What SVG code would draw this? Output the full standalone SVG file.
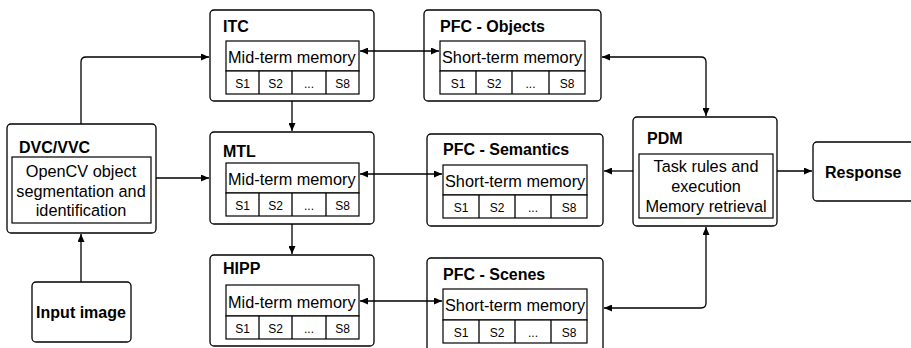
<svg xmlns="http://www.w3.org/2000/svg" width="911" height="348" viewBox="0 0 911 348">
<defs>
<marker id="ah" viewBox="0 0 10 10" refX="10" refY="5" markerWidth="8" markerHeight="7" markerUnits="userSpaceOnUse" orient="auto-start-reverse" preserveAspectRatio="none">
<path d="M0,0 L10,5 L0,10 Z" fill="#000"/>
</marker>
<style>
.box{fill:#fff;stroke:#000;stroke-width:1.3}
.in{fill:#fff;stroke:#000;stroke-width:1.2}
.t{font-family:"Liberation Sans",Arial,sans-serif;font-weight:bold;font-size:16px;fill:#000}
.m{font-family:"Liberation Sans",Arial,sans-serif;font-size:16.3px;fill:#000}
.s{font-family:"Liberation Sans",Arial,sans-serif;font-size:12px;fill:#000;text-anchor:middle}
.c{fill:none;stroke:#000;stroke-width:1.3}
</style>
</defs>
<rect width="911" height="348" fill="#fff"/>

<g id="dvc">
<rect class="box" x="7" y="124" width="149" height="109" rx="4"/>
<text class="t" x="19" y="153">DVC/VVC</text>
<rect class="in" x="12" y="157" width="139" height="66"/>
<text class="m" x="81" y="177" text-anchor="middle">OpenCV object</text>
<text class="m" x="81" y="197" text-anchor="middle">segmentation and</text>
<text class="m" x="81" y="216" text-anchor="middle">identification</text>
</g>

<g id="input">
<rect class="box" x="32" y="282" width="99" height="60" rx="4"/>
<text class="t" x="81" y="318" text-anchor="middle">Input image</text>
</g>

<g id="itc">
<rect class="box" x="210" y="10" width="164" height="91" rx="4"/>
<text class="t" x="223" y="32">ITC</text>
<rect class="in" x="226" y="41" width="133" height="30"/>
<text class="m" x="228" y="63">Mid-term memory</text>
<rect class="in" x="226" y="71" width="133" height="23"/>
<path class="c" d="M259,71 V94 M292,71 V94 M326,71 V94"/>
<text class="s" x="242.5" y="87.5">S1</text><text class="s" x="275.5" y="87.5">S2</text><text class="s" x="309" y="87.5">...</text><text class="s" x="342.5" y="87.5">S8</text>
</g>

<g id="mtl">
<rect class="box" x="210" y="132" width="164" height="92" rx="4"/>
<text class="t" x="223" y="157">MTL</text>
<rect class="in" x="226" y="163" width="133" height="30"/>
<text class="m" x="228" y="185">Mid-term memory</text>
<rect class="in" x="226" y="193" width="133" height="23"/>
<path class="c" d="M259,193 V216 M292,193 V216 M326,193 V216"/>
<text class="s" x="242.5" y="209.5">S1</text><text class="s" x="275.5" y="209.5">S2</text><text class="s" x="309" y="209.5">...</text><text class="s" x="342.5" y="209.5">S8</text>
</g>

<g id="hipp">
<rect class="box" x="210" y="255" width="164" height="91" rx="4"/>
<text class="t" x="223" y="274">HIPP</text>
<rect class="in" x="226" y="285" width="133" height="31"/>
<text class="m" x="228" y="308">Mid-term memory</text>
<rect class="in" x="226" y="316" width="133" height="23"/>
<path class="c" d="M259,316 V339 M292,316 V339 M326,316 V339"/>
<text class="s" x="242.5" y="332.5">S1</text><text class="s" x="275.5" y="332.5">S2</text><text class="s" x="309" y="332.5">...</text><text class="s" x="342.5" y="332.5">S8</text>
</g>

<g id="pfc-objects">
<rect class="box" x="424" y="10" width="177" height="91" rx="4"/>
<text class="t" x="440" y="32">PFC - Objects</text>
<rect class="in" x="440" y="41" width="145" height="30"/>
<text class="m" x="442" y="63">Short-term memory</text>
<rect class="in" x="440" y="71" width="145" height="23"/>
<path class="c" d="M476,71 V94 M512,71 V94 M549,71 V94"/>
<text class="s" x="458" y="87.5">S1</text><text class="s" x="494" y="87.5">S2</text><text class="s" x="530.5" y="87.5">...</text><text class="s" x="567" y="87.5">S8</text>
</g>

<g id="pfc-semantics">
<rect class="box" x="427" y="134" width="176" height="92" rx="4"/>
<text class="t" x="443" y="155">PFC - Semantics</text>
<rect class="in" x="443" y="165" width="144" height="30"/>
<text class="m" x="445" y="187">Short-term memory</text>
<rect class="in" x="443" y="195" width="144" height="23"/>
<path class="c" d="M479,195 V218 M515,195 V218 M551,195 V218"/>
<text class="s" x="461" y="211.5">S1</text><text class="s" x="497" y="211.5">S2</text><text class="s" x="533" y="211.5">...</text><text class="s" x="569" y="211.5">S8</text>
</g>

<g id="pfc-scenes">
<rect class="box" x="427" y="258" width="176" height="100" rx="4"/>
<text class="t" x="443" y="280">PFC - Scenes</text>
<rect class="in" x="443" y="289" width="144" height="31"/>
<text class="m" x="445" y="311">Short-term memory</text>
<rect class="in" x="443" y="320" width="144" height="23"/>
<path class="c" d="M479,320 V343 M515,320 V343 M551,320 V343"/>
<text class="s" x="461" y="336.5">S1</text><text class="s" x="497" y="336.5">S2</text><text class="s" x="533" y="336.5">...</text><text class="s" x="569" y="336.5">S8</text>
</g>

<g id="pdm">
<rect class="box" x="633" y="117" width="144" height="109" rx="4"/>
<text class="t" x="647" y="144">PDM</text>
<rect class="in" x="639" y="154" width="134" height="64"/>
<text class="m" x="706" y="172" text-anchor="middle">Task rules and</text>
<text class="m" x="706" y="192" text-anchor="middle">execution</text>
<text class="m" x="706" y="212" text-anchor="middle">Memory retrieval</text>
</g>

<g id="response">
<rect class="box" x="813" y="142" width="110" height="59" rx="4"/>
<text class="t" x="825" y="178">Response</text>
</g>

<g id="connectors">
<path class="c" d="M81,124 V62 Q81,57 86,57 H209" marker-end="url(#ah)"/>
<path class="c" d="M156,178 H209" marker-end="url(#ah)"/>
<path class="c" d="M81,282 V234" marker-end="url(#ah)"/>
<path class="c" d="M292,101 V131" marker-end="url(#ah)"/>
<path class="c" d="M292,224 V254" marker-end="url(#ah)"/>
<path class="c" d="M360,51 H439" marker-start="url(#ah)" marker-end="url(#ah)"/>
<path class="c" d="M360,174 H442" marker-start="url(#ah)" marker-end="url(#ah)"/>
<path class="c" d="M360,301 H442" marker-start="url(#ah)" marker-end="url(#ah)"/>
<path class="c" d="M602,57 H701 Q706,57 706,62 V116" marker-start="url(#ah)" marker-end="url(#ah)"/>
<path class="c" d="M633,171 H604" marker-end="url(#ah)"/>
<path class="c" d="M777,171 H812" marker-end="url(#ah)"/>
<path class="c" d="M706,227 V303 Q706,308 701,308 H604" marker-start="url(#ah)" marker-end="url(#ah)"/>
</g>
</svg>
